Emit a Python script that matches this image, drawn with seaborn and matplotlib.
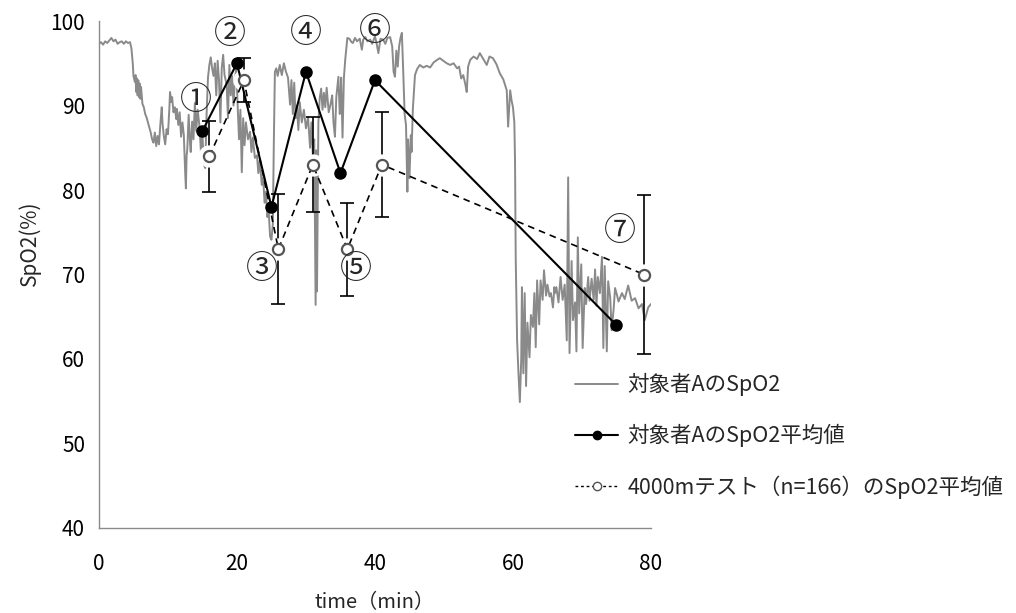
import matplotlib
matplotlib.use("Agg")
import matplotlib.pyplot as plt
from matplotlib.lines import Line2D
import numpy as np
import pandas as pd
import seaborn as sns

# Continuous SpO2 record of subject A (minutes, %)
trace_t = [0.0, 0.3, 0.6, 0.9, 1.2, 1.5, 1.8, 2.1, 2.4, 2.7, 3.0, 3.3, 3.6, 3.9, 4.2, 4.5,
           4.7, 4.9, 5.0, 5.2, 5.3, 5.4, 5.5, 5.6, 5.7, 5.8, 5.9, 6.0, 6.1, 6.3, 6.5, 6.7,
           6.9, 7.1, 7.3, 7.5, 7.7, 7.9, 8.1, 8.3, 8.5, 8.7, 8.9, 9.1, 9.2, 9.4, 9.6, 9.8,
           10.0, 10.2, 10.3, 10.5, 10.6, 10.8, 11.0, 11.2, 11.3, 11.5, 11.7, 11.9, 12.1,
           12.3, 12.5, 12.6, 12.7, 12.8, 13.0, 13.2, 13.3, 13.5, 13.7, 13.9, 14.1, 14.3,
           14.6, 14.8, 15.0, 15.2, 15.4, 15.6, 15.8, 16.0, 16.2, 16.4, 16.6, 16.8, 17.0,
           17.2, 17.4, 17.6, 17.8, 18.0, 18.2, 18.5, 18.7, 18.9, 19.1, 19.3, 19.5, 19.7,
           19.9, 20.1, 20.3, 20.5, 20.7, 20.9, 21.1, 21.3, 21.6, 21.9, 22.1, 22.3, 22.6,
           22.9, 23.1, 23.3, 23.6, 23.8, 24.0, 24.2, 24.4, 24.6, 24.8, 25.0, 25.2, 25.35,
           25.5, 25.7, 25.9, 26.2, 26.5, 26.8, 27.1, 27.4, 27.7, 27.9, 28.1, 28.3, 28.5,
           28.7, 28.9, 29.1, 29.4, 29.7, 30.0, 30.3, 30.6, 30.8, 31.0, 31.2, 31.4, 31.5,
           31.6, 31.8, 32.0, 32.2, 32.4, 32.6, 32.8, 33.0, 33.3, 33.6, 33.8, 34.0, 34.2,
           34.4, 34.7, 34.9, 35.0, 35.1, 35.3, 35.5, 35.7, 35.9, 36.0, 36.3, 36.6, 36.8,
           37.1, 37.4, 37.8, 38.1, 38.3, 38.6, 38.9, 39.3, 39.6, 40.0, 40.2, 40.5, 40.8,
           41.2, 41.5, 41.8, 42.2, 42.5, 42.7, 42.9, 43.1, 43.3, 43.5, 43.7, 43.9, 44.1,
           44.3, 44.5, 44.7, 44.8, 45.0, 45.2, 45.3, 45.5, 45.8, 46.1, 46.5, 47.0, 47.5,
           48.0, 48.5, 49.0, 49.4, 49.9, 50.4, 50.9, 51.4, 51.9, 52.2, 52.5, 52.8, 53.1,
           53.3, 53.5, 53.8, 54.3, 54.8, 55.2, 55.7, 56.2, 56.6, 57.1, 57.6, 58.1, 58.6,
           59.1, 59.3, 59.6, 59.8, 60.0, 60.2, 60.3, 60.4, 60.6, 60.8, 61.0, 61.2, 61.3,
           61.5, 61.7, 61.9, 62.1, 62.4, 62.6, 62.9, 63.1, 63.3, 63.5, 63.8, 64.0, 64.3,
           64.5, 64.8, 65.0, 65.3, 65.5, 65.8, 66.0, 66.1, 66.3, 66.6, 66.9, 67.2, 67.5,
           67.8, 68.0, 68.2, 68.5, 68.7, 69.0, 69.2, 69.4, 69.6, 69.9, 70.1, 70.4, 70.6,
           70.9, 71.1, 71.4, 71.7, 71.9, 72.1, 72.3, 72.6, 72.9, 73.1, 73.3, 73.6, 73.8,
           74.1, 74.3, 74.6, 74.8, 75.1, 75.3, 75.8, 76.2, 76.7, 77.2, 77.7, 78.2, 78.7,
           79.1, 79.6, 80.0]
trace_v = [97.3, 97.5, 97.2, 97.6, 97.4, 97.7, 98.0, 97.6, 97.8, 97.3, 97.5, 97.6, 97.3, 97.6,
           97.4, 97.5, 96.8, 95.0, 93.5, 92.8, 93.6, 91.6, 93.2, 91.2, 93.0, 91.0, 92.6, 90.8,
           92.2, 90.2, 89.8, 89.0, 88.6, 88.0, 87.4, 86.8, 86.0, 85.6, 86.8, 85.2, 86.4, 85.4,
           87.8, 89.8, 88.0, 86.4, 85.4, 87.2, 86.6, 89.6, 91.6, 90.4, 91.0, 89.2, 89.8, 88.4,
           89.6, 87.7, 89.2, 86.3, 88.0, 86.5, 82.0, 80.2, 84.0, 84.8, 88.9, 85.5, 84.5, 88.1,
           86.0, 90.3, 87.0, 89.5, 87.3, 84.2, 86.5, 83.0, 82.6, 89.0, 93.3, 94.8, 95.7, 94.4,
           93.5, 95.0, 91.2, 95.3, 93.0, 88.0, 94.5, 96.0, 93.6, 92.5, 88.5, 94.8, 91.2, 93.5,
           90.0, 93.0, 94.5, 90.0, 86.0, 89.5, 82.1, 88.5, 85.3, 88.0, 86.0, 86.9, 84.5, 86.2,
           83.8, 84.1, 82.0, 83.5, 80.6, 81.5, 78.5, 79.8, 76.8, 77.5, 74.5, 74.1, 76.0, 86.0,
           94.0, 94.4, 93.5, 94.8, 93.6, 95.0, 94.0, 93.3, 90.1, 93.0, 89.0, 92.7, 88.5, 90.0,
           87.1, 90.4, 88.0, 89.5, 87.3, 88.6, 85.0, 88.0, 84.1, 86.0, 66.4, 84.7, 68.0, 88.0,
           90.9, 92.0, 89.5, 91.5, 89.8, 92.1, 89.2, 90.3, 91.2, 87.9, 86.3, 91.0, 93.4, 89.0,
           90.0, 93.3, 86.2, 93.3, 95.5, 97.2, 98.0, 97.9, 97.5, 97.4, 98.0, 97.6, 97.9, 96.6,
           97.8, 98.1, 97.6, 97.8, 97.3, 98.2, 97.5, 96.2, 97.9, 97.8, 97.3, 98.0, 98.1, 97.0,
           94.0, 93.4, 96.5, 94.6, 97.0, 98.0, 98.6, 94.0, 89.0, 87.7, 79.8, 86.0, 81.4, 86.5,
           84.5, 89.7, 93.6, 94.3, 94.8, 94.5, 94.7, 94.5, 95.1, 95.4, 95.6, 95.3, 95.0, 94.8,
           95.0, 94.4, 94.6, 93.2, 93.6, 92.5, 91.6, 94.6, 95.4, 95.8, 95.5, 96.2, 95.5, 94.8,
           95.8, 95.6, 94.9, 93.8, 93.1, 91.8, 87.5, 91.8, 90.6, 89.8, 88.0, 83.5, 72.0, 62.2,
           58.3, 54.9, 60.0, 68.5, 58.3, 67.8, 56.8, 64.3, 60.2, 65.2, 63.8, 67.8, 61.4, 69.3,
           64.1, 69.3, 67.0, 70.5, 67.5, 68.8, 67.4, 67.8, 66.1, 68.5, 67.8, 68.5, 66.7, 69.7,
           67.0, 68.8, 62.2, 81.5, 60.7, 71.6, 64.6, 66.7, 60.9, 74.4, 65.4, 71.2, 61.3, 68.4,
           66.5, 69.7, 66.9, 69.5, 67.0, 70.6, 66.3, 69.7, 67.8, 72.1, 61.3, 71.0, 60.9, 69.2,
           67.2, 63.4, 66.0, 68.4, 67.5, 66.8, 67.8, 67.1, 68.7, 66.9, 67.2, 66.0, 66.5, 64.6,
           66.1, 66.5]

# Stage means of subject A
subj_t = [15, 20, 25, 30, 35, 40, 75]
subj_mean = [87, 95, 78, 94, 82, 93, 64]

# Stage means and SD of the 4000 m test group (n=166)
grp_t = [16, 21, 26, 31, 36, 41, 79]
grp_mean = [84, 93, 73, 83, 73, 83, 70]
grp_sd = [4.2, 2.6, 6.5, 5.6, 5.5, 6.2, 9.4]

# Stage labels
stage_labels = ["①", "②", "③", "④", "⑤", "⑥", "⑦"]
stage_label_t = [14.0, 19.0, 23.6, 30.0, 37.2, 40.0, 75.5]
stage_label_v = [90.6, 98.5, 70.7, 98.6, 70.7, 98.8, 75.1]

x_ticks = [0, 20, 40, 60, 80]
y_ticks = [40, 50, 60, 70, 80, 90, 100]

sns.set_style("white")
plt.rcParams["font.family"] = ["Noto Sans CJK JP", "DejaVu Sans"]

fig = plt.figure(figsize=(10.16, 6.13), dpi=100)
ax = fig.add_axes([0.0974, 0.1387, 0.5433, 0.827])

trace_df = pd.DataFrame({"t": trace_t, "v": trace_v})
subj_df = pd.DataFrame({"t": subj_t, "v": subj_mean})
grp_df = pd.DataFrame({"t": grp_t, "v": grp_mean, "sd": grp_sd})

trace_color = "#8a8a8a"
sns.lineplot(data=trace_df, x="t", y="v", ax=ax, color=trace_color, lw=1.4,
             sort=False, estimator=None, zorder=1)

# SD bars for the group means
ax.errorbar(grp_df["t"], grp_df["v"], yerr=grp_df["sd"], fmt="none",
            ecolor="black", elinewidth=1.2, capsize=5, capthick=1.2, zorder=2)
# white halo around the group markers
ax.plot(grp_df["t"], grp_df["v"], ls="none", marker="o", ms=15,
        mfc="white", mec="white", zorder=3)

sns.lineplot(data=grp_df, x="t", y="v", ax=ax, color="black", lw=1.2,
             sort=False, estimator=None, zorder=4, dashes=False)
ax.lines[-1].set_linestyle((0, (4, 3)))
ax.plot(grp_df["t"], grp_df["v"], ls="none", marker="o", ms=8,
        mfc="white", mec="#555555", mew=1.6, zorder=6)

sns.lineplot(data=subj_df, x="t", y="v", ax=ax, color="black", lw=1.5,
             sort=False, estimator=None, zorder=5)
ax.plot(subj_df["t"], subj_df["v"], ls="none", marker="o", ms=8,
        mfc="black", mec="black", zorder=6)

for lab, tx, ty in zip(stage_labels, stage_label_t, stage_label_v):
    ax.text(tx, ty, lab, fontsize=23, ha="center", va="center", zorder=7)

ax.set_xlim(0, 80)
ax.set_ylim(40, 100)
ax.set_xticks(x_ticks)
ax.set_yticks(y_ticks)
ax.tick_params(axis="both", direction="out", length=5, width=1, color="#8a8a8a",
               labelsize=15, labelcolor="black")
ax.tick_params(axis="x", pad=13)
ax.tick_params(axis="y", pad=5)
for side in ["top", "right"]:
    ax.spines[side].set_visible(False)
for side in ["left", "bottom"]:
    ax.spines[side].set_color("#8a8a8a")
    ax.spines[side].set_linewidth(1)

ax.set_xlabel("time（min）", fontsize=14.5, labelpad=12)
ax.set_ylabel("SpO2(%)", fontsize=15)
ax.yaxis.set_label_coords(-0.105, 0.562)

handles = [
    Line2D([], [], color=trace_color, lw=1.4),
    Line2D([], [], color="black", lw=1.5, marker="o", ms=6, mfc="black", mec="black"),
    Line2D([], [], color="black", lw=1.0, ls=(0, (2, 2)), marker="o", ms=6,
           mfc="white", mec="#555555"),
]
labels = ["対象者AのSpO2", "対象者AのSpO2平均値", "4000mテスト（n=166）のSpO2平均値"]
fig.legend(handles, labels, loc="upper left", bbox_to_anchor=(575 / 1016, 1 - 373 / 613),
           bbox_transform=fig.transFigure, frameon=False, fontsize=15.5,
           handlelength=2.0, handletextpad=0.45, labelspacing=1.3, borderpad=0,
           borderaxespad=0)

fig.savefig("out.png", dpi=100)
